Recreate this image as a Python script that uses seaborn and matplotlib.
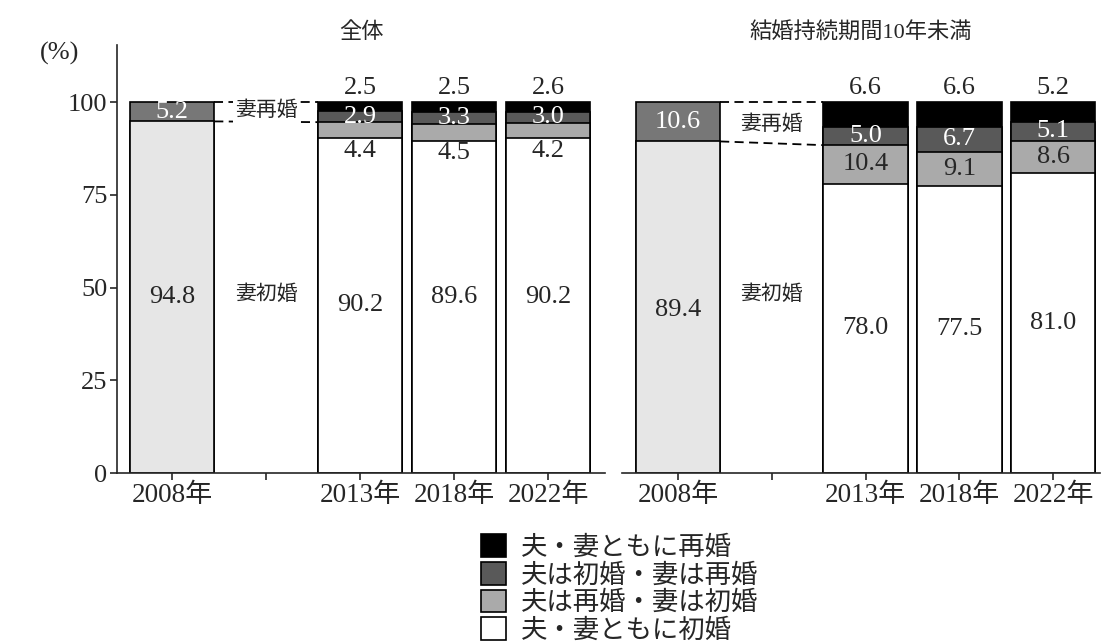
import numpy as np
import pandas as pd
import matplotlib
matplotlib.use('Agg')
import matplotlib.pyplot as plt
from matplotlib.patches import Patch
import seaborn as sns

#%% data
cats = ['2008年', ' ', '2013年', '2018年', '2022年']
years = ['2013年', '2018年', '2022年']

# 全体
all08_wife_re = 5.2
all08_wife_first = 94.8
all_both_re = [2.5, 2.5, 2.6]
all_wife_re = [2.9, 3.3, 3.0]
all_husb_re = [4.4, 4.5, 4.2]
all_both_first = [90.2, 89.6, 90.2]

# 結婚持続期間10年未満
rec08_wife_re = 10.6
rec08_wife_first = 89.4
rec_both_re = [6.6, 6.6, 5.2]
rec_wife_re = [5.0, 6.7, 5.1]
rec_husb_re = [10.4, 9.1, 8.6]
rec_both_first = [78.0, 77.5, 81.0]

legend_labels = ['夫・妻ともに再婚', '夫は初婚・妻は再婚', '夫は再婚・妻は初婚', '夫・妻ともに初婚']
colors = ['#000000', '#595959', '#aaaaaa', '#ffffff']
c08 = ['#777777', '#e6e6e6']

sns.set_style('ticks')
plt.rcParams['font.family'] = ['Liberation Serif', 'Noto Sans CJK JP']
plt.rcParams['axes.linewidth'] = 1.2

fig = plt.figure(figsize=(11.03, 6.43), dpi=100)
ax1 = fig.add_axes([117/1103, 170/643, 488/1103, 428/643])
ax2 = fig.add_axes([622/1103, 170/643, 478/1103, 428/643])


def bars(ax, x, y, color):
    sns.barplot(x=x, y=y, order=cats, color=color, saturation=1, width=0.9,
                edgecolor='black', linewidth=1.2, errorbar=None, ax=ax)


def panel(ax, w08, f08, both_re, wife_re, husb_re, first, mid_y, mid08_y, kon_y):
    first = np.array(first)
    t_light = first + np.array(husb_re)
    t_dark = t_light + np.array(wife_re)
    t_black = t_dark + np.array(both_re)
    # 2008年
    bars(ax, ['2008年'], [w08 + f08], c08[0])
    bars(ax, ['2008年'], [f08], c08[1])
    # later years, drawn tallest first
    for tops, col in zip([t_black, t_dark, t_light, first], colors):
        bars(ax, years, list(tops), col)

    fs = 19
    ax.text(0, f08 + w08 / 2, f'{w08:.1f}', ha='center', va='center', color='white', fontsize=fs)
    ax.text(0, mid08_y, f'{f08:.1f}', ha='center', va='center', fontsize=fs)
    for i in range(3):
        x = i + 2
        ax.text(x, 103.9, f'{both_re[i]:.1f}', ha='center', va='center', fontsize=fs)
        ax.text(x, (t_dark[i] + t_light[i]) / 2, f'{wife_re[i]:.1f}', ha='center', va='center',
                color='white', fontsize=fs)
        if husb_re[i] < 6:
            yl = first[i] - 3.3
        else:
            yl = (t_light[i] + first[i]) / 2
        ax.text(x, yl, f'{husb_re[i]:.1f}', ha='center', va='center', fontsize=fs)
        ax.text(x, mid_y[i], f'{first[i]:.1f}', ha='center', va='center', fontsize=fs)

    # dashed connectors 2008 -> 2013
    ax.plot([0.45, 1.55], [100, 100], ls=(0, (5, 3)), color='black', lw=1.3)
    ax.plot([0.45, 1.55], [f08, t_light[0]], ls=(0, (5, 3)), color='black', lw=1.3)
    ax.text(1, kon_y, '妻再婚', ha='center', va='center', fontsize=15,
            bbox=dict(facecolor='white', edgecolor='none', pad=1))
    ax.text(1, 48, '妻初婚', ha='center', va='center', fontsize=15)

    ax.set_ylim(0, 115.4)
    ax.set_xlabel('')
    ax.set_ylabel('')
    ax.tick_params(axis='x', labelsize=19.5, length=5, width=1.2, pad=2)
    sns.despine(ax=ax)


panel(ax1, all08_wife_re, all08_wife_first, all_both_re, all_wife_re, all_husb_re,
      all_both_first, [45.3, 47.4, 47.4], 47.4, 97.5)
panel(ax2, rec08_wife_re, rec08_wife_first, rec_both_re, rec_wife_re, rec_husb_re,
      rec_both_first, [39.0, 38.8, 40.4], 43.9, 93.8)

ax1.set_xlim(-0.585, 4.606)
ax2.set_xlim(-0.597, 4.5)
ax1.set_yticks([0, 25, 50, 75, 100])
ax1.tick_params(axis='y', labelsize=19, length=5, width=1.2, pad=2)
ax2.set_yticks([])
ax2.spines['left'].set_visible(False)

ax1.set_title('全体', fontsize=16, pad=5)
ax2.set_title('結婚持続期間10年未満', fontsize=16, pad=5)
fig.text(60/1103, 1 - 53/643, '(%)', ha='center', va='center', fontsize=19)

handles = [Patch(facecolor=c, edgecolor='black', linewidth=1.2) for c in colors]
fig.legend(handles, legend_labels, loc='lower center', bbox_to_anchor=(0.562, -0.028),
           frameon=False, fontsize=19, handlelength=0.95, handleheight=0.95,
           labelspacing=0.08, handletextpad=0.55, borderpad=0.2)

plt.savefig('out.png', dpi=100)
